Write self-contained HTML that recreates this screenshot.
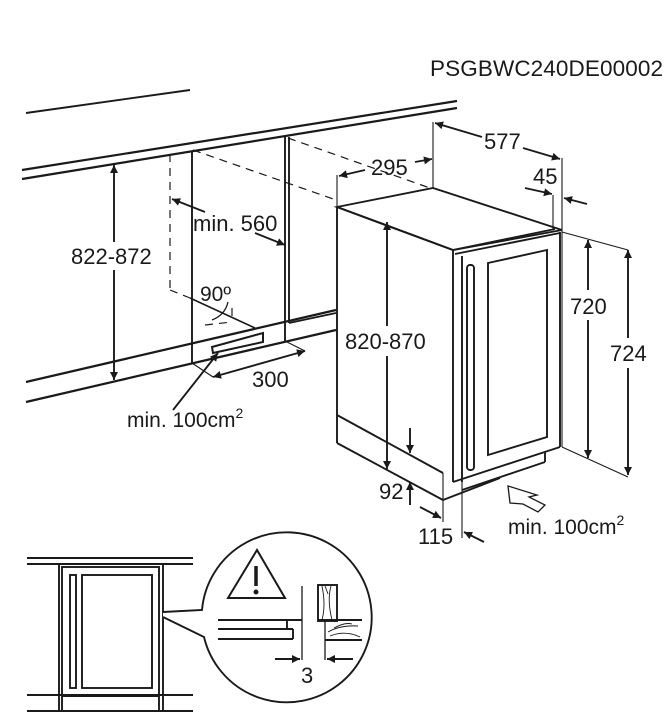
<!DOCTYPE html>
<html><head><meta charset="utf-8"><style>
html,body{margin:0;padding:0;background:#fff;}
svg{display:block;}
text{font-family:"Liberation Sans",Arial,sans-serif;fill:#1a1a1a;}
</style></head><body>
<svg width="672" height="728" viewBox="0 0 672 728" xmlns="http://www.w3.org/2000/svg">
<defs>
<marker id="a" viewBox="0 0 10 10" refX="10" refY="5" markerWidth="11" markerHeight="8" orient="auto-start-reverse" markerUnits="userSpaceOnUse">
<path d="M0,0 L10,5 L0,10 z" fill="#1a1a1a"/></marker>
</defs>
<g stroke="#1a1a1a" stroke-width="1.9" fill="none">
<text x="430" y="76" font-size="22.5" stroke="none" textLength="233">PSGBWC240DE00002</text>

<!-- left wall cabinets -->
<line x1="26" y1="113" x2="190" y2="90"/>
<line x1="22" y1="170" x2="457" y2="101" stroke-width="2.2"/>
<line x1="22" y1="179" x2="457" y2="108" stroke-width="2.2"/>
<line x1="26" y1="382" x2="336" y2="310" stroke-width="2.2"/>
<line x1="26" y1="402" x2="336" y2="330" stroke-width="2.2"/>
<line x1="192" y1="152" x2="192" y2="363"/>
<line x1="285" y1="137" x2="285" y2="341"/>
<line x1="289" y1="137" x2="289" y2="323"/>
<line x1="289" y1="323" x2="336" y2="313"/>
<g stroke-dasharray="8,6" stroke-width="1.2">
<line x1="170" y1="154" x2="170" y2="290"/>
<line x1="193" y1="150" x2="336" y2="200"/>
<line x1="288" y1="138" x2="430" y2="188"/>
<line x1="170" y1="290" x2="190" y2="298"/>
<line x1="205" y1="325" x2="232" y2="322"/>
<line x1="232" y1="308" x2="232" y2="322"/>
</g>
<line x1="190" y1="298" x2="255" y2="328" stroke-width="1.6"/>
<path d="M228,302 Q225,315 212,320" stroke-width="1.3"/>
<text x="200" y="301" font-size="21" stroke="none">90º</text>
<polygon points="212,347 263,333 263,342 213,353" stroke-width="2"/>
<line x1="287" y1="342" x2="305" y2="351" stroke-width="1.1"/>
<line x1="192" y1="363" x2="213" y2="377" stroke-width="1.1"/>
<line x1="213" y1="377" x2="305" y2="351" marker-start="url(#a)" marker-end="url(#a)"/>
<text x="252" y="387" font-size="22" stroke="none">300</text>
<line x1="173" y1="410" x2="218" y2="353" marker-end="url(#a)"/>
<text x="127" y="427" font-size="21" stroke="none">min. 100cm<tspan font-size="14" dy="-9">2</tspan></text>
<line x1="114" y1="165" x2="114" y2="380" marker-start="url(#a)" marker-end="url(#a)"/>
<rect x="68" y="242" width="92" height="28" fill="#fff" stroke="none"/>
<text x="71" y="264" font-size="22" stroke="none">822-872</text>
<line x1="205" y1="212" x2="172" y2="199" marker-end="url(#a)"/>
<line x1="255" y1="233" x2="285" y2="245" marker-end="url(#a)"/>
<text x="193" y="231" font-size="22" stroke="none">min. 560</text>

<!-- appliance -->
<polygon points="337,207 433,188 562,230 453,250" fill="#fff"/>
<line x1="337" y1="207" x2="337" y2="443"/>
<line x1="453" y1="250" x2="453" y2="482"/>
<line x1="337" y1="207" x2="453" y2="250"/>
<line x1="337" y1="415" x2="443" y2="473"/>
<line x1="337" y1="443" x2="443" y2="500"/>
<line x1="443" y1="473" x2="443" y2="522" stroke-width="1.1"/>
<line x1="443" y1="500" x2="500" y2="478"/>
<line x1="462" y1="482" x2="462" y2="538" stroke-width="1.1"/>
<line x1="453" y1="250" x2="555" y2="229"/>
<line x1="455" y1="254" x2="560" y2="233"/>
<line x1="462" y1="256" x2="462" y2="482"/>
<line x1="560" y1="232" x2="560" y2="447"/>
<line x1="453" y1="482" x2="560" y2="447"/>
<line x1="462" y1="490" x2="545" y2="462"/>
<line x1="545" y1="452" x2="545" y2="462"/>
<polygon points="488,263 547,250 547,437 488,455"/>
<rect x="467" y="265" width="7" height="205" rx="3"/>
<!-- dims -->
<line x1="433" y1="122" x2="433" y2="188" stroke-width="1.1"/>
<line x1="562" y1="158" x2="562" y2="447" stroke-width="1.1"/>
<line x1="553" y1="195" x2="553" y2="229" stroke-width="1.1"/>
<line x1="337" y1="175" x2="337" y2="207" stroke-width="1.1"/>
<line x1="482" y1="137" x2="435" y2="123" marker-end="url(#a)"/>
<line x1="523" y1="148" x2="560" y2="159" marker-end="url(#a)"/>
<text x="484" y="149" font-size="22" stroke="none">577</text>
<line x1="365" y1="170" x2="339" y2="176" marker-end="url(#a)"/>
<line x1="415" y1="162" x2="432" y2="159" marker-end="url(#a)"/>
<text x="371" y="175" font-size="22" stroke="none">295</text>
<text x="533" y="184" font-size="22" stroke="none">45</text>
<line x1="525" y1="188" x2="552" y2="194" marker-end="url(#a)"/>
<line x1="587" y1="204" x2="564" y2="198" marker-end="url(#a)"/>
<line x1="562" y1="232" x2="628" y2="250" stroke-width="1.1"/>
<line x1="562" y1="447" x2="628" y2="477" stroke-width="1.1"/>
<line x1="588" y1="240" x2="588" y2="458" marker-start="url(#a)" marker-end="url(#a)"/>
<rect x="568" y="290" width="44" height="30" fill="#fff" stroke="none"/>
<text x="570" y="314" font-size="22" stroke="none">720</text>
<line x1="628" y1="250" x2="628" y2="475" marker-start="url(#a)" marker-end="url(#a)"/>
<rect x="608" y="338" width="44" height="30" fill="#fff" stroke="none"/>
<text x="610" y="361" font-size="22" stroke="none">724</text>
<line x1="387" y1="222" x2="387" y2="469" marker-start="url(#a)" marker-end="url(#a)"/>
<rect x="343" y="326" width="90" height="30" fill="#fff" stroke="none"/>
<text x="345" y="349" font-size="22" stroke="none">820-870</text>
<line x1="410" y1="428" x2="410" y2="453" marker-end="url(#a)"/>
<line x1="410" y1="505" x2="410" y2="482" marker-end="url(#a)"/>
<text x="379" y="499" font-size="22" stroke="none">92</text>
<line x1="420" y1="507" x2="441" y2="518" marker-end="url(#a)"/>
<line x1="484" y1="542" x2="464" y2="532" marker-end="url(#a)"/>
<text x="418" y="544" font-size="22" stroke="none">115</text>
<polygon points="508,486 537,495 529,497 545,505 538,512 523,504 510,503" stroke-width="1.3"/>
<text x="508" y="534" font-size="21" stroke="none">min. 100cm<tspan font-size="14" dy="-9">2</tspan></text>

<!-- bottom detail -->
<line x1="27" y1="558" x2="193" y2="558"/>
<line x1="27" y1="564" x2="193" y2="564"/>
<line x1="27" y1="695" x2="193" y2="695"/>
<line x1="27" y1="711" x2="193" y2="711"/>
<line x1="59" y1="564" x2="59" y2="711"/>
<line x1="163" y1="564" x2="163" y2="711"/>
<rect x="62" y="567" width="97" height="144"/>
<line x1="62" y1="696" x2="159" y2="696"/>
<rect x="82" y="575" width="70" height="113"/>
<rect x="70" y="575" width="6" height="113"/>
<path d="M163,612 L202,610 A85,85 0 1,1 204,637 L163,617" fill="#fff"/>
<polygon points="228,598 285,598 257,550" stroke-width="2"/>
<line x1="256" y1="566" x2="256" y2="586" stroke-width="3.5"/>
<circle cx="256" cy="592" r="2.5" fill="#1a1a1a" stroke="none"/>
<line x1="218" y1="620" x2="302" y2="620"/>
<line x1="218" y1="629" x2="293" y2="629"/>
<line x1="218" y1="639" x2="293" y2="639"/>
<line x1="287" y1="620" x2="287" y2="629"/>
<line x1="293" y1="629" x2="293" y2="639"/>
<line x1="302" y1="586" x2="302" y2="660" stroke-width="1.3"/>
<rect x="318" y="585" width="19" height="36"/>
<path d="M322,586 Q326,605 322,620 M331,586 Q327,600 332,620 M325,586 l3,8" stroke-width="0.9"/>
<line x1="318" y1="620" x2="362" y2="620"/>
<line x1="325" y1="620" x2="325" y2="660" stroke-width="1.3"/>
<line x1="325" y1="640" x2="362" y2="640"/>
<path d="M328,632 Q340,625 358,626 M330,636 Q345,630 360,637 M334,628 Q345,622 352,624" stroke-width="0.9"/>
<line x1="275" y1="659" x2="300" y2="659" marker-end="url(#a)"/>
<line x1="353" y1="659" x2="327" y2="659" marker-end="url(#a)"/>
<text x="301" y="683" font-size="22" stroke="none">3</text>
</g>
</svg>
</body></html>
